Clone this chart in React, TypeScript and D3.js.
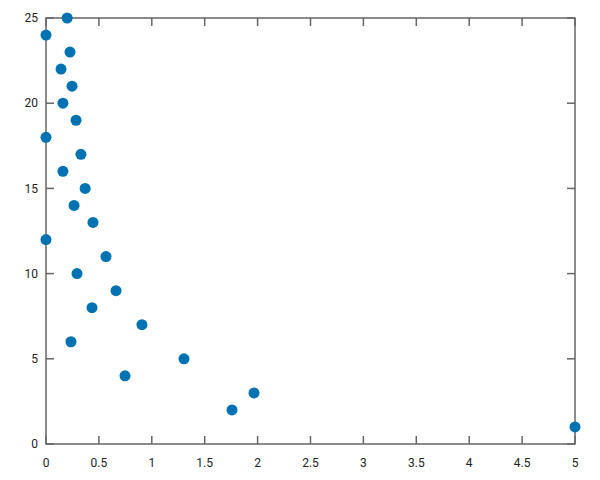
import React from 'react';
import * as d3 from 'd3';

// y values 1..25, x
const yValues = [25, 24, 23, 22, 21, 20, 19, 18, 17, 16, 15, 14, 13, 12, 11, 10, 9, 8, 7, 6, 5, 4, 3, 2, 1];
const xValues = [0.2, 0, 0.227, 0.142, 0.246, 0.16, 0.284, 0, 0.33, 0.16, 0.37, 0.265, 0.444, 0, 0.567, 0.293, 0.662, 0.435, 0.907, 0.236, 1.304, 0.747, 1.966, 1.758, 5];
const xTicks = [0, 0.5, 1, 1.5, 2, 2.5, 3, 3.5, 4, 4.5, 5];
const yTicks = [0, 5, 10, 15, 20, 25];

const width = 600;
const height = 480;
const margin = { top: 18, right: 25, bottom: 36, left: 46 };

export default function App() {
  const x = d3.scaleLinear().domain([0, 5]).range([margin.left, width - margin.right]);
  const y = d3.scaleLinear().domain([0, 25]).range([height - margin.bottom, margin.top]);
  const [x0, x1] = x.range();
  const [y0, y1] = y.range();
  const tickLen = 8;
  const axisColor = '#666';

  return (
    <div style={{ position: 'absolute', left: 0, top: 0 }}>
      <svg width={width} height={height} style={{ display: 'block', fontFamily: 'Roboto, sans-serif' }}>
        <rect width={width} height={height} fill="white" />
        {/* ticks on all four sides, pointing inward */}
        {xTicks.map(t => (
          <g key={'x' + t}>
            <line x1={x(t)} x2={x(t)} y1={y0} y2={y0 - tickLen} stroke={axisColor} strokeWidth={1.5} />
            <line x1={x(t)} x2={x(t)} y1={y1} y2={y1 + tickLen} stroke={axisColor} strokeWidth={1.5} />
            <text x={x(t)} y={y0 + 23} textAnchor="middle" fontSize={12} fill="#222">{t}</text>
          </g>
        ))}
        {yTicks.map(t => (
          <g key={'y' + t}>
            <line x1={x0} x2={x0 + tickLen} y1={y(t)} y2={y(t)} stroke={axisColor} strokeWidth={1.5} />
            <line x1={x1} x2={x1 - tickLen} y1={y(t)} y2={y(t)} stroke={axisColor} strokeWidth={1.5} />
            <text x={x0 - 8} y={y(t)} dy="0.35em" textAnchor="end" fontSize={12} fill="#222">{t}</text>
          </g>
        ))}
        <rect x={x0} y={y1} width={x1 - x0} height={y0 - y1} fill="none" stroke={axisColor} strokeWidth={1.5} />
        {yValues.map((v, i) => (
          <circle key={i} cx={x(xValues[i])} cy={y(v)} r={5.5} fill="#0072b2" />
        ))}
      </svg>
    </div>
  );
}
